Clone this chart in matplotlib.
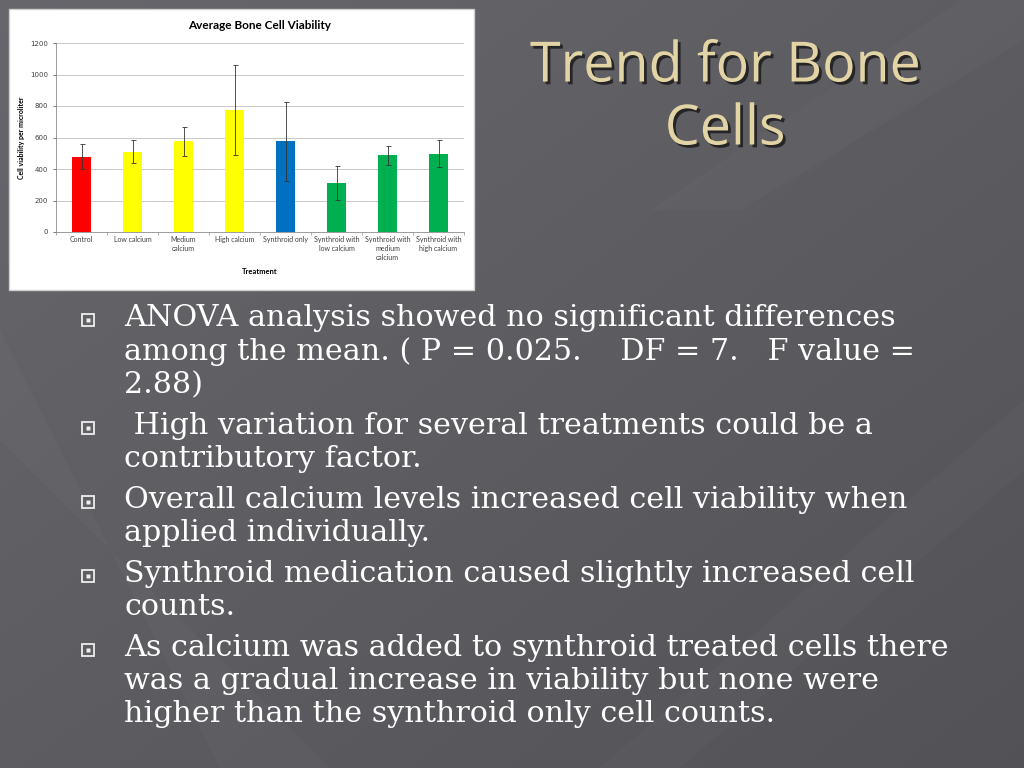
import numpy as np
import matplotlib
matplotlib.use("Agg")
import matplotlib.pyplot as plt
import matplotlib.patheffects as pe
from matplotlib.patches import Rectangle, Polygon

# chart data
treatments = ["Control", "Low calcium", "Medium\ncalcium", "High calcium", "Synthroid only",
              "Synthroid with\nlow calcium", "Synthroid with\nmedium\ncalcium", "Synthroid with\nhigh calcium"]
viability = [479, 511, 575, 774, 575, 314, 488, 496]
errors = [80, 73, 91, 285, 250, 108, 60, 86]
bar_colors = ["#FF0000", "#FFFF00", "#FFFF00", "#FFFF00", "#0070C0", "#00B050", "#00B050", "#00B050"]

title_lines = ["Trend for Bone", "Cells"]
bullets = [
    ["ANOVA analysis showed no significant differences",
     "among the mean. ( P = 0.025.    DF = 7.   F value =",
     "2.88)"],
    [" High variation for several treatments could be a",
     "contributory factor."],
    ["Overall calcium levels increased cell viability when",
     "applied individually."],
    ["Synthroid medication caused slightly increased cell",
     "counts."],
    ["As calcium was added to synthroid treated cells there",
     "was a gradual increase in viability but none were",
     "higher than the synthroid only cell counts."],
]

W, H = 1024, 768
fig = plt.figure(figsize=(W / 100, H / 100), dpi=100)

# slide background
bg = fig.add_axes([0, 0, 1, 1])
bg.set_xlim(0, W)
bg.set_ylim(H, 0)
bg.axis("off")
yy, xx = np.mgrid[0:H, 0:W]
grad = 0.37 + 0.04 * (1 - xx / W) - 0.04 * (yy / H)
img = np.dstack([grad * 0.98, grad * 0.98, grad * 1.03])
bg.imshow(np.clip(img, 0, 1), extent=[0, W, H, 0], aspect="auto")
for pts, a in [([(0, 330), (0, 440), (330, 768), (220, 768)], 0.025),
               ([(600, 768), (680, 768), (1024, 470), (1024, 400)], 0.025),
               ([(650, 210), (740, 210), (1024, 40), (1024, 0), (960, 0)], 0.02)]:
    bg.add_patch(Polygon(pts, closed=True, color="white", alpha=a, lw=0))

# white chart panel
bg.add_patch(Rectangle((9, 9), 465, 281, facecolor="white", edgecolor="#cfcfcf", lw=1))

# title
for i, line in enumerate(title_lines):
    bg.text(725, 67 + i * 63, line, ha="center", va="center", fontsize=40,
            family="Open Sans", color="#E3D4A5",
            path_effects=[pe.withSimplePatchShadow(offset=(2, -2), shadow_rgbFace="black", alpha=0.6)])

# bullets
y = 318
for para in bullets:
    bg.plot(88, y + 2, marker="s", ms=9, mfc="none", mec="#eeeeee", mew=1.3)
    bg.plot(88, y + 2, marker="s", ms=3, mfc="#eeeeee", mec="none")
    for line in para:
        bg.text(124, y, line, ha="left", va="center", fontsize=21.7,
                family="DejaVu Serif", color="white")
        y += 33.5
    y += 7

# chart
ax = fig.add_axes([56 / W, 1 - 232 / H, 408 / W, 189 / H])
x = np.arange(len(treatments))
ax.bar(x, viability, width=0.38, color=bar_colors, zorder=3)
ax.errorbar(x, viability, yerr=errors, fmt="none", ecolor="#333333", elinewidth=0.6,
            capsize=1.8, capthick=0.6, zorder=4)
ax.set_xlim(-0.5, len(treatments) - 0.5)
ax.set_ylim(0, 1200)
ax.set_yticks(range(0, 1201, 200))
ax.yaxis.grid(True, color="#bfbfbf", lw=0.6, zorder=0)
ax.set_xticks(x)
ax.set_xticklabels(treatments, fontsize=5, family="Lato", color="#404040", linespacing=1.3)
ax.tick_params(axis="y", labelsize=5, colors="#404040", length=2, width=0.5)
ax.tick_params(axis="x", length=0, pad=3)
ax.set_xticks(np.arange(-0.5, len(treatments)), minor=True)
ax.tick_params(axis="x", which="minor", length=2.5, width=0.5, color="#8c8c8c")
for s in ["top", "right"]:
    ax.spines[s].set_visible(False)
for s in ["left", "bottom"]:
    ax.spines[s].set_color("#8c8c8c")
    ax.spines[s].set_linewidth(0.6)
ax.set_xlabel("Treatment", fontsize=5.5, family="Lato", fontweight="bold", labelpad=5)
ax.set_ylabel("Cell viability per microliter", fontsize=5, family="Lato", fontweight="bold", labelpad=4)
ax.set_title("Average Bone Cell Viability", fontsize=8.5, family="Lato", fontweight="bold", pad=10)

fig.savefig("out.png", dpi=100)
